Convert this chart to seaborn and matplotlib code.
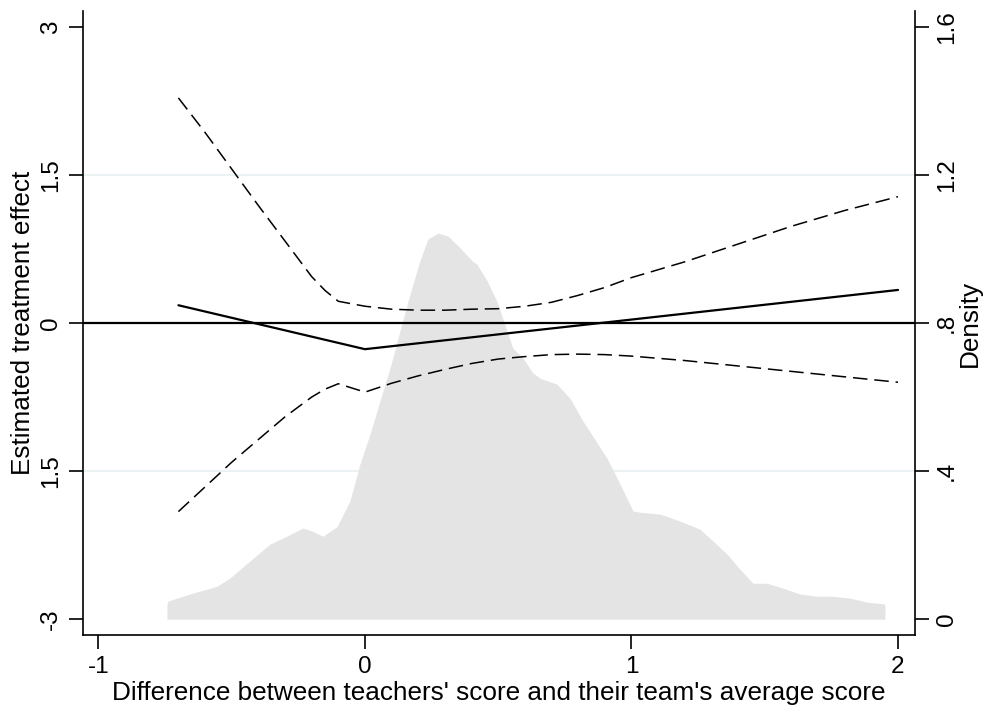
import matplotlib
matplotlib.use("Agg")
import matplotlib.pyplot as plt
import pandas as pd
import seaborn as sns

# kernel density of the running variable (right axis)
dens_x = [-0.743, -0.739, -0.657, -0.555, -0.507, -0.432, -0.356, -0.308, -0.233, -0.195,
          -0.158, -0.105, -0.056, -0.019, 0.019, 0.056, 0.094, 0.131, 0.169, 0.206,
          0.236, 0.274, 0.311, 0.357, 0.402, 0.420, 0.458, 0.495, 0.533, 0.555,
          0.593, 0.630, 0.657, 0.720, 0.769, 0.818, 0.908, 0.957, 1.006, 1.032,
          1.107, 1.182, 1.257, 1.306, 1.358, 1.407, 1.456, 1.508, 1.568, 1.632,
          1.696, 1.756, 1.820, 1.884, 1.951]
dens_y = [0.040, 0.049, 0.068, 0.089, 0.111, 0.157, 0.203, 0.219, 0.246, 0.237,
          0.224, 0.250, 0.320, 0.419, 0.500, 0.589, 0.678, 0.778, 0.878, 0.968,
          1.027, 1.043, 1.035, 1.003, 0.968, 0.959, 0.914, 0.859, 0.778, 0.732,
          0.705, 0.665, 0.651, 0.635, 0.597, 0.535, 0.435, 0.365, 0.292, 0.289,
          0.284, 0.265, 0.243, 0.211, 0.176, 0.135, 0.097, 0.097, 0.084, 0.068,
          0.062, 0.062, 0.057, 0.046, 0.041]

# point estimate (left axis)
est_x = [-0.7, 0.0, 2.0]
est_y = [0.18, -0.265, 0.335]

# confidence bands (left axis)
ci_x = [-0.7, -0.6, -0.5, -0.4, -0.3, -0.2, -0.15, -0.1, 0.0, 0.1, 0.2, 0.3,
        0.4, 0.5, 0.6, 0.7, 0.8, 0.9, 1.0, 1.2, 1.4, 1.6, 1.8, 2.0]
ci_upper = [2.28, 1.93, 1.56, 1.19, 0.83, 0.47, 0.33, 0.22, 0.17, 0.14, 0.13, 0.13,
            0.14, 0.145, 0.17, 0.21, 0.28, 0.36, 0.46, 0.62, 0.80, 0.98, 1.14, 1.28]
ci_lower = [-1.91, -1.66, -1.41, -1.18, -0.95, -0.75, -0.67, -0.615, -0.70, -0.61, -0.535, -0.47,
            -0.41, -0.365, -0.34, -0.32, -0.315, -0.32, -0.335, -0.38, -0.435, -0.49, -0.545, -0.60]

left_ticks = [-3, -1.5, 0, 1.5, 3]
left_labels = ["-3", "1.5", "0", "1.5", "3"]
right_ticks = [0, 0.4, 0.8, 1.2, 1.6]
right_labels = ["0", ".4", ".8", "1.2", "1.6"]
x_ticks = [-1, 0, 1, 2]
x_labels = ["-1", "0", "1", "2"]


def main():
    sns.set_theme(style="white")
    plt.rcParams['font.family'] = ['Liberation Sans', 'DejaVu Sans']
    plt.rcParams['text.color'] = 'black'
    plt.rcParams['axes.labelcolor'] = 'black'
    plt.rcParams['xtick.color'] = 'black'
    plt.rcParams['ytick.color'] = 'black'
    fs = 17.5
    lfs = 18.8

    fig = plt.figure(figsize=(9.87, 7.09), dpi=100)
    ax = fig.add_axes([0.0841, 0.1044, 0.843, 0.880])
    ax2 = ax.twinx()

    # density in the back
    ax.set_zorder(ax2.get_zorder() + 1)
    ax.patch.set_visible(False)
    ax2.patch.set_visible(True)
    ax2.patch.set_facecolor("white")

    dens = pd.DataFrame({"x": dens_x, "y": dens_y})
    ax2.fill_between(dens["x"], 0, dens["y"], color="#e4e4e4", lw=0, zorder=2)
    for g in [0.4, 1.2]:
        ax2.axhline(g, color="#eaf2f3", lw=1.5, zorder=1)

    est = pd.DataFrame({"x": est_x, "y": est_y})
    ci = pd.DataFrame({"x": ci_x, "upper": ci_upper, "lower": ci_lower})
    ax.axhline(0, color="black", lw=1.6, zorder=3)
    sns.lineplot(data=est, x="x", y="y", ax=ax, color="black", lw=1.6,
                 sort=False, estimator=None, zorder=4)
    for col in ["upper", "lower"]:
        sns.lineplot(data=ci, x="x", y=col, ax=ax, color="black", lw=1.1,
                     linestyle=(0, (9.5, 4.5)), sort=False, estimator=None, zorder=4)

    ax.set_xlim(-1.058, 2.064)
    ax.set_ylim(-3.16, 3.16)
    ax2.set_ylim((-3.16 + 3) / 6 * 1.6, (3.16 + 3) / 6 * 1.6)

    ax.set_xticks(x_ticks)
    ax.set_xticklabels(x_labels, fontsize=fs)
    ax.set_yticks(left_ticks)
    ax.set_yticklabels(left_labels, fontsize=fs, rotation=90, va="center")
    ax2.set_yticks(right_ticks)
    ax2.set_yticklabels(right_labels, fontsize=fs, rotation=90, va="center")

    for a in [ax, ax2]:
        a.tick_params(axis="both", direction="out", length=10, width=1.2,
                      color="black", pad=5)
        for s in a.spines.values():
            s.set_visible(False)
    ax.spines["left"].set_visible(True)
    ax.spines["bottom"].set_visible(True)
    ax2.spines["right"].set_visible(True)
    for s in [ax.spines["left"], ax.spines["bottom"], ax2.spines["right"]]:
        s.set_color("black")
        s.set_linewidth(1.2)
    ax.tick_params(axis="y", left=True)
    ax.tick_params(axis="x", bottom=True)
    ax2.tick_params(axis="y", right=True)

    ax.set_xlabel("Difference between teachers' score and their team's average score",
                  fontsize=lfs, labelpad=2)
    ax.set_ylabel("Estimated treatment effect", fontsize=lfs, labelpad=4)
    ax2.set_ylabel("Density", fontsize=lfs, labelpad=0, rotation=90)
    ax.grid(False)
    ax2.grid(False)

    fig.savefig("out.png", dpi=100, facecolor="white")


if __name__ == "__main__":
    main()
